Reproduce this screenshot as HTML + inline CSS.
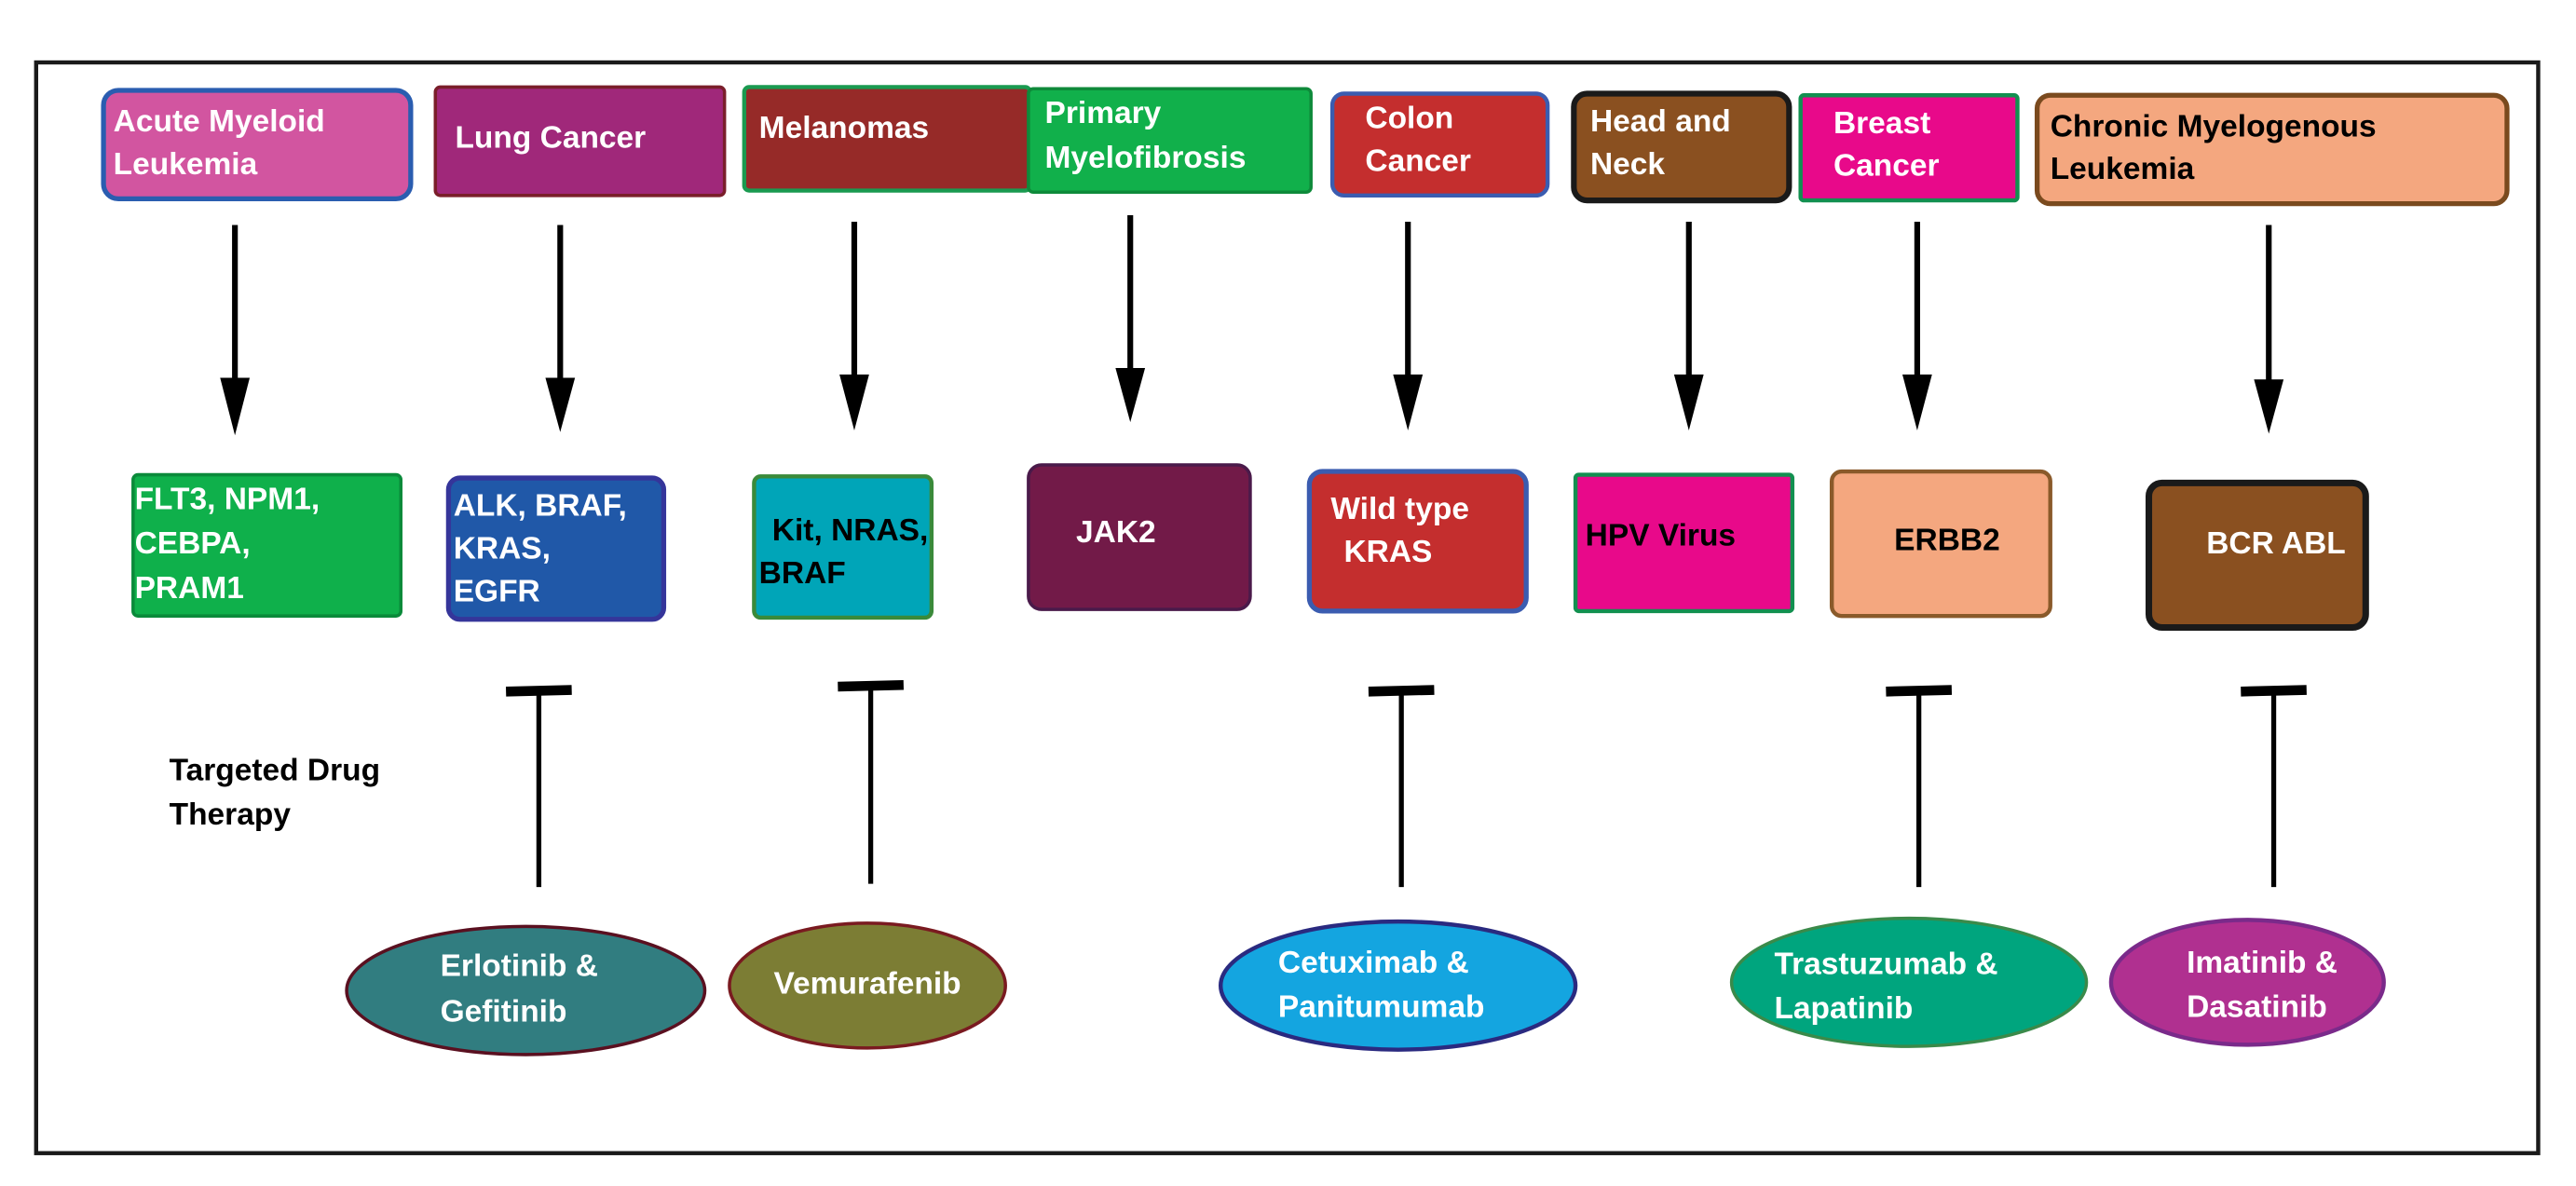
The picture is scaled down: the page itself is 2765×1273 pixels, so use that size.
<!DOCTYPE html>
<html><head><meta charset="utf-8"><style>
html,body{margin:0;padding:0;background:#fff}
svg{display:block}
text{font-family:"Liberation Sans",Arial,sans-serif;font-weight:bold;font-size:19px}
.w{fill:#fff}.k{fill:#000}
</style></head><body>
<svg width="2765" height="1273" viewBox="0 0 1568 722" preserveAspectRatio="none" xmlns="http://www.w3.org/2000/svg">
<rect x="0" y="0" width="1568" height="722" fill="#fff"/>
<rect x="22" y="38" width="1523" height="664" fill="none" stroke="#1a1a1a" stroke-width="2.5"/>

<!-- top boxes -->
<rect x="63" y="55" width="187" height="66" rx="9" fill="#d255a0" stroke="#2a5db0" stroke-width="3"/>
<rect x="265" y="53" width="176" height="66" rx="3" fill="#a0287a" stroke="#7a1e2a" stroke-width="2"/>
<rect x="453" y="53" width="174" height="63" rx="3" fill="#962a28" stroke="#1a9a50" stroke-width="2.5"/>
<rect x="626" y="54" width="172" height="63" rx="3" fill="#11b04b" stroke="#0e8a3a" stroke-width="2"/>
<rect x="811" y="57" width="131" height="62" rx="7" fill="#c42e2e" stroke="#3b5cb0" stroke-width="2.5"/>
<rect x="958" y="57" width="131" height="65" rx="8" fill="#8a5020" stroke="#1a1a1a" stroke-width="3.5"/>
<rect x="1096" y="58" width="132" height="64" rx="2" fill="#e8098a" stroke="#129050" stroke-width="2.5"/>
<rect x="1240" y="58" width="286" height="66" rx="8" fill="#f4a77f" stroke="#7a4a1e" stroke-width="3"/>

<text class="w" x="69" y="80">Acute Myeloid</text><text class="w" x="69" y="106">Leukemia</text>
<text class="w" x="277" y="90">Lung Cancer</text>
<text class="w" x="462" y="84">Melanomas</text>
<text class="w" x="636" y="75">Primary</text><text class="w" x="636" y="102">Myelofibrosis</text>
<text class="w" x="831" y="78">Colon</text><text class="w" x="831" y="104">Cancer</text>
<text class="w" x="968" y="80">Head and</text><text class="w" x="968" y="106">Neck</text>
<text class="w" x="1116" y="81">Breast</text><text class="w" x="1116" y="107">Cancer</text>
<text class="k" x="1248" y="83">Chronic Myelogenous</text><text class="k" x="1248" y="109">Leukemia</text>

<!-- arrows -->
<g fill="#000" stroke="#000">
<line x1="143" y1="137" x2="143" y2="235" stroke-width="3.5"/><polygon points="134,230 152,230 143,265" stroke="none"/>
<line x1="341" y1="137" x2="341" y2="235" stroke-width="3.5"/><polygon points="332,230 350,230 341,263" stroke="none"/>
<line x1="520" y1="135" x2="520" y2="232" stroke-width="3.5"/><polygon points="511,228 529,228 520,262" stroke="none"/>
<line x1="688" y1="131" x2="688" y2="228" stroke-width="3.5"/><polygon points="679,224 697,224 688,257" stroke="none"/>
<line x1="857" y1="135" x2="857" y2="232" stroke-width="3.5"/><polygon points="848,228 866,228 857,262" stroke="none"/>
<line x1="1028" y1="135" x2="1028" y2="232" stroke-width="3.5"/><polygon points="1019,228 1037,228 1028,262" stroke="none"/>
<line x1="1167" y1="135" x2="1167" y2="232" stroke-width="3.5"/><polygon points="1158,228 1176,228 1167,262" stroke="none"/>
<line x1="1381" y1="137" x2="1381" y2="235" stroke-width="3.5"/><polygon points="1372,231 1390,231 1381,264" stroke="none"/>
</g>

<!-- middle boxes -->
<rect x="81" y="289" width="163" height="86" rx="3" fill="#0fb04b" stroke="#0a8a3a" stroke-width="2"/>
<rect x="273" y="291" width="131" height="86" rx="7" fill="#2058a8" stroke="#35359a" stroke-width="3"/>
<rect x="459" y="290" width="108" height="86" rx="4" fill="#00a5b8" stroke="#3a8a3a" stroke-width="2.5"/>
<rect x="626" y="283" width="135" height="88" rx="8" fill="#721a48" stroke="#4a1a4a" stroke-width="2"/>
<rect x="797" y="287" width="132" height="85" rx="8" fill="#c42e2e" stroke="#3b5cb0" stroke-width="3"/>
<rect x="959" y="289" width="132" height="83" rx="2" fill="#e8098a" stroke="#129050" stroke-width="2.5"/>
<rect x="1115" y="287" width="133" height="88" rx="6" fill="#f4a77f" stroke="#8a5a2a" stroke-width="2.5"/>
<rect x="1308" y="294" width="132" height="88" rx="8" fill="#8a5020" stroke="#1a1a1a" stroke-width="4"/>

<text class="w" x="82" y="310">FLT3, NPM1,</text><text class="w" x="82" y="337">CEBPA,</text><text class="w" x="82" y="364">PRAM1</text>
<text class="w" x="276" y="314">ALK, BRAF,</text><text class="w" x="276" y="340">KRAS,</text><text class="w" x="276" y="366">EGFR</text>
<text class="k" x="470" y="329">Kit, NRAS,</text><text class="k" x="462" y="355">BRAF</text>
<text class="w" x="655" y="330">JAK2</text>
<text class="w" x="810" y="316">Wild type</text><text class="w" x="818" y="342">KRAS</text>
<text class="k" x="965" y="332">HPV Virus</text>
<text class="k" x="1153" y="335">ERBB2</text>
<text class="w" x="1343" y="337">BCR ABL</text>

<!-- T-bars -->
<g stroke="#000">
<line x1="328" y1="422" x2="328" y2="540" stroke-width="3"/><line x1="308" y1="421" x2="348" y2="420" stroke-width="6"/>
<line x1="530" y1="419" x2="530" y2="538" stroke-width="3"/><line x1="510" y1="418" x2="550" y2="417" stroke-width="6"/>
<line x1="853" y1="422" x2="853" y2="540" stroke-width="3"/><line x1="833" y1="421" x2="873" y2="420" stroke-width="6"/>
<line x1="1168" y1="422" x2="1168" y2="540" stroke-width="3"/><line x1="1148" y1="421" x2="1188" y2="420" stroke-width="6"/>
<line x1="1384" y1="422" x2="1384" y2="540" stroke-width="3"/><line x1="1364" y1="421" x2="1404" y2="420" stroke-width="6"/>
</g>

<text class="k" x="103" y="475">Targeted Drug</text><text class="k" x="103" y="502">Therapy</text>

<!-- ellipses -->
<ellipse cx="320" cy="603" rx="109" ry="39" fill="#317d80" stroke="#5a1020" stroke-width="2"/>
<ellipse cx="528" cy="600" rx="84" ry="38" fill="#7c7d34" stroke="#7a1a20" stroke-width="2"/>
<ellipse cx="851" cy="600" rx="108" ry="39" fill="#14a5e0" stroke="#2a2a80" stroke-width="2.5"/>
<ellipse cx="1162" cy="598" rx="108" ry="39" fill="#00a57e" stroke="#3a8a4a" stroke-width="2"/>
<ellipse cx="1368" cy="598" rx="83" ry="38" fill="#b03090" stroke="#7a2a8a" stroke-width="2.5"/>

<text class="w" x="268" y="594">Erlotinib &amp;</text><text class="w" x="268" y="622">Gefitinib</text>
<text class="w" x="528" y="605" text-anchor="middle">Vemurafenib</text>
<text class="w" x="778" y="592">Cetuximab &amp;</text><text class="w" x="778" y="619">Panitumumab</text>
<text class="w" x="1080" y="593">Trastuzumab &amp;</text><text class="w" x="1080" y="620">Lapatinib</text>
<text class="w" x="1331" y="592">Imatinib &amp;</text><text class="w" x="1331" y="619">Dasatinib</text>
</svg>
</body></html>
